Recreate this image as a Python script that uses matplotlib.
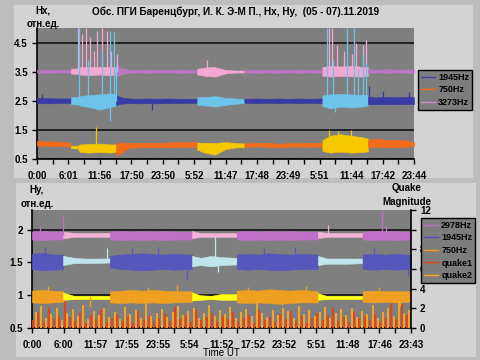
import numpy as np
import matplotlib
matplotlib.use('Agg')
import matplotlib.pyplot as plt
from matplotlib.patches import Rectangle
from matplotlib.lines import Line2D

plt.rcParams['font.family'] = ['Liberation Sans', 'DejaVu Sans']
plt.rcParams['font.weight'] = 'bold'

# ---------------- data: top panel (Hx) ----------------
TOP_XLABELS = ['0:00', '6:01', '11:56', '17:50', '23:50', '5:52', '11:47',
               '17:48', '23:49', '5:51', '11:44', '17:42', '23:44']
# time in hours, repeated time = start of a new (alternate colour) segment
T_TOP = [0, 2, 4, 6.5,
         6.5, 7.8, 8.2, 10, 12, 14, 15.1,
         15.1, 16, 17.5, 19, 21, 23, 25, 27, 30.6,
         30.6, 32, 34, 36, 38, 39.6,
         39.6, 42, 44, 46, 48, 50, 52, 54.5,
         54.5, 56, 58, 60, 62, 63.2,
         63.2, 65, 67, 69, 71, 72]

hx3273_lo = [3.47, 3.46, 3.47, 3.47,
             3.43, 3.42, 3.40, 3.38, 3.40, 3.37, 3.40,
             3.32, 3.40, 3.46, 3.47, 3.46, 3.47, 3.47, 3.46, 3.47,
             3.40, 3.36, 3.33, 3.44, 3.47, 3.47,
             3.47, 3.46, 3.47, 3.46, 3.47, 3.46, 3.47, 3.46,
             3.36, 3.33, 3.35, 3.34, 3.33, 3.36,
             3.46, 3.47, 3.46, 3.47, 3.46, 3.47]
hx3273_hi = [3.56, 3.57, 3.56, 3.56,
             3.60, 3.61, 3.66, 3.65, 3.67, 3.66, 3.65,
             3.78, 3.62, 3.57, 3.56, 3.57, 3.56, 3.56, 3.57, 3.56,
             3.60, 3.64, 3.66, 3.56, 3.54, 3.54,
             3.56, 3.57, 3.56, 3.57, 3.56, 3.57, 3.56, 3.57,
             3.66, 3.70, 3.68, 3.70, 3.67, 3.66,
             3.58, 3.57, 3.58, 3.57, 3.58, 3.56]

hx1945_lo = [2.42, 2.41, 2.42, 2.43,
             2.38, 2.37, 2.34, 2.28, 2.20, 2.28, 2.34,
             2.35, 2.40, 2.42, 2.41, 2.42, 2.41, 2.42, 2.42, 2.43,
             2.36, 2.34, 2.30, 2.36, 2.40, 2.42,
             2.43, 2.42, 2.43, 2.42, 2.43, 2.42, 2.43, 2.42,
             2.32, 2.24, 2.30, 2.27, 2.30, 2.34,
             2.38, 2.38, 2.39, 2.38, 2.39, 2.38]
hx1945_hi = [2.60, 2.59, 2.58, 2.58,
             2.62, 2.63, 2.66, 2.70, 2.72, 2.76, 2.72,
             2.70, 2.62, 2.58, 2.57, 2.58, 2.57, 2.58, 2.57, 2.57,
             2.62, 2.63, 2.66, 2.60, 2.58, 2.56,
             2.57, 2.58, 2.57, 2.58, 2.57, 2.58, 2.57, 2.58,
             2.68, 2.72, 2.74, 2.72, 2.70, 2.70,
             2.64, 2.62, 2.63, 2.62, 2.64, 2.62]

hx750_lo = [0.96, 0.95, 0.95, 0.93,
            0.87, 0.86, 0.74, 0.72, 0.74, 0.72, 0.75,
            0.62, 0.68, 0.88, 0.90, 0.90, 0.91, 0.90, 0.91, 0.92,
            0.82, 0.72, 0.65, 0.84, 0.90, 0.90,
            0.92, 0.93, 0.92, 0.90, 0.92, 0.93, 0.92, 0.93,
            0.78, 0.72, 0.75, 0.72, 0.74, 0.76,
            0.90, 0.92, 0.90, 0.91, 0.92, 0.95]
hx750_hi = [1.12, 1.11, 1.10, 1.05,
            0.95, 0.96, 1.00, 1.02, 1.03, 1.00, 1.00,
            1.05, 1.05, 1.06, 1.05, 1.06, 1.05, 1.07, 1.08, 1.10,
            1.06, 1.06, 1.05, 1.08, 1.05, 1.03,
            1.04, 1.05, 1.06, 1.02, 1.05, 1.04, 1.06, 1.05,
            1.15, 1.30, 1.35, 1.30, 1.25, 1.20,
            1.16, 1.20, 1.15, 1.16, 1.12, 1.08]

# spikes (time, end value)
top_pink_spk_t = [7.8, 8.6, 9.4, 10.1, 10.9, 11.5, 12.4, 13.4, 14.2, 15.3,
                  32.5, 55.7, 56.4, 57.3, 58.6, 60.2, 61.0, 62.2, 62.8]
top_pink_spk_v = [5.0, 4.8, 5.0, 4.7, 4.2, 4.9, 5.0, 4.9, 4.2, 4.1,
                  3.9, 5.0, 5.0, 4.4, 4.2, 4.1, 4.5, 4.4, 4.6]
top_blue_spk_t = [8.0, 9.8, 12.4, 13.9, 14.7, 15.0, 13.9,
                  55.4, 56.6, 59.2, 60.6, 61.3, 62.3, 62.9, 57.0]
top_blue_spk_v = [5.0, 3.9, 4.2, 4.9, 4.85, 3.7, 1.8,
                  5.0, 3.9, 5.0, 5.0, 3.6, 4.1, 3.8, 2.1]
top_dblue_spk_t = [1.0, 22.0, 63.5, 66.0, 71.0]
top_dblue_spk_v = [2.72, 2.2, 3.0, 2.85, 2.8]
top_yel_spk_t = [11.2, 55.8, 57.5, 60.0]
top_yel_spk_v = [1.6, 1.5, 1.45, 1.5]

# ---------------- data: bottom panel (Hy) ----------------
BOT_XLABELS = ['0:00', '6:00', '11:57', '17:55', '23:55', '5:54', '11:52',
               '17:52', '23:52', '5:51', '11:48', '17:46', '23:43']
T_BOT = [0, 2, 4, 5.9,
         5.9, 8, 10, 12, 14.8,
         14.8, 17, 19, 21, 23, 25, 27, 30.4,
         30.4, 32, 34, 36, 38.9,
         38.9, 41, 43, 45, 47, 49, 51, 54.3,
         54.3, 56, 58, 60, 62.8,
         62.8, 65, 67, 69, 71, 72]

hy2978_lo = [1.85, 1.84, 1.85, 1.85,
             1.87, 1.89, 1.89, 1.89, 1.89,
             1.85, 1.84, 1.85, 1.84, 1.85, 1.84, 1.85, 1.85,
             1.87, 1.89, 1.89, 1.89, 1.89,
             1.85, 1.84, 1.85, 1.84, 1.85, 1.84, 1.85, 1.85,
             1.87, 1.89, 1.89, 1.89, 1.89,
             1.85, 1.84, 1.85, 1.84, 1.85, 1.85]
hy2978_hi = [1.97, 1.98, 1.97, 1.97,
             1.97, 1.95, 1.95, 1.95, 1.95,
             1.97, 1.98, 1.97, 1.98, 1.97, 1.98, 1.97, 1.97,
             1.98, 1.95, 1.95, 1.95, 1.95,
             1.97, 1.98, 1.97, 1.98, 1.97, 1.98, 1.97, 1.97,
             1.97, 1.95, 1.95, 1.95, 1.95,
             1.97, 1.98, 1.97, 1.98, 1.97, 1.97]

hy1945_lo = [1.40, 1.38, 1.39, 1.40,
             1.46, 1.49, 1.49, 1.49, 1.50,
             1.42, 1.40, 1.39, 1.38, 1.39, 1.40, 1.39, 1.40,
             1.44, 1.46, 1.44, 1.46, 1.47,
             1.40, 1.39, 1.40, 1.39, 1.38, 1.39, 1.40, 1.40,
             1.46, 1.48, 1.48, 1.48, 1.49,
             1.40, 1.39, 1.40, 1.39, 1.40, 1.40]
hy1945_hi = [1.63, 1.65, 1.62, 1.62,
             1.60, 1.57, 1.56, 1.56, 1.56,
             1.60, 1.62, 1.63, 1.64, 1.63, 1.62, 1.63, 1.62,
             1.60, 1.57, 1.60, 1.58, 1.57,
             1.62, 1.63, 1.62, 1.64, 1.63, 1.62, 1.63, 1.62,
             1.60, 1.56, 1.56, 1.56, 1.56,
             1.62, 1.63, 1.62, 1.63, 1.62, 1.62]

hy750_lo = [0.89, 0.88, 0.89, 0.90,
            0.93, 0.94, 0.94, 0.94, 0.94,
            0.89, 0.88, 0.89, 0.88, 0.89, 0.88, 0.89, 0.90,
            0.92, 0.93, 0.94, 0.93, 0.93,
            0.89, 0.88, 0.89, 0.88, 0.87, 0.88, 0.89, 0.89,
            0.93, 0.94, 0.94, 0.94, 0.94,
            0.90, 0.89, 0.90, 0.89, 0.90, 0.90]
hy750_hi = [1.07, 1.08, 1.07, 1.06,
            1.04, 0.99, 0.99, 0.99, 0.99,
            1.06, 1.07, 1.08, 1.07, 1.08, 1.07, 1.06, 1.06,
            1.04, 1.00, 0.99, 1.02, 1.02,
            1.07, 1.08, 1.07, 1.09, 1.08, 1.07, 1.08, 1.06,
            1.03, 0.99, 0.99, 0.99, 0.99,
            1.06, 1.07, 1.06, 1.06, 1.06, 1.06]

bot_purp_spk_t = [1.5, 5.8, 66.5, 67.3]
bot_purp_spk_v = [2.05, 2.22, 2.28, 2.05]
bot_pink_spk_t = [56.2]
bot_pink_spk_v = [2.07]
bot_blue_spk_t = [2.5, 19.0, 24.0, 29.4, 44.0, 50.0, 65.0, 71.5]
bot_blue_spk_v = [1.73, 1.72, 1.74, 1.23, 1.72, 1.73, 1.72, 1.30]
bot_cyan_spk_t = [14.2, 34.7, 35.3]
bot_cyan_spk_v = [1.72, 1.90, 1.35]
bot_orange_spk_t = [3.0, 11.0, 22.0, 27.5, 41.0, 47.5, 52.0, 66.0, 70.0]
bot_orange_spk_v = [1.14, 0.82, 1.13, 1.15, 1.12, 0.83, 1.14, 1.13, 0.84]

# quake magnitudes (right axis), one value per hour
quake1 = [0.8, 1.5, 0.6, 2.0, 0.9, 1.2, 2.7, 1.1, 0.7, 1.6, 0.5, 1.3,
          0.9, 1.8, 0.6, 1.0, 1.4, 0.7, 1.1, 0.5, 1.7, 0.8, 1.2, 0.6,
          1.0, 1.5, 0.7, 2.1, 0.9, 1.3, 0.6, 1.9, 0.8, 1.1, 1.5, 0.6,
          1.2, 0.9, 1.6, 0.7, 1.0, 1.3, 0.5, 1.8, 0.8, 1.1, 0.6, 1.4,
          0.9, 1.7, 0.7, 1.2, 0.5, 1.0, 1.5, 0.8, 1.3, 2.0, 0.7, 1.1,
          0.6, 1.6, 0.9, 1.2, 0.8, 1.4, 0.6, 1.0, 2.5, 0.9, 2.4, 1.3]
quake2 = [1.6, 2.2, 1.0, 1.4, 2.0, 0.8, 1.5, 1.9, 1.2, 2.3, 0.9, 1.7,
          1.3, 2.0, 1.1, 1.6, 0.9, 2.1, 1.4, 1.8, 1.0, 2.4, 1.2, 1.5,
          1.9, 1.1, 1.6, 2.2, 1.3, 1.7, 2.0, 1.0, 1.5, 2.3, 1.2, 1.8,
          1.4, 2.1, 1.0, 1.6, 1.9, 1.2, 2.5, 1.5, 1.1, 1.8, 1.3, 2.0,
          1.7, 1.0, 2.2, 1.4, 1.8, 1.2, 1.6, 2.1, 1.0, 1.5, 1.9, 1.3,
          2.0, 1.1, 1.7, 1.4, 2.3, 1.0, 1.6, 2.0, 1.2, 2.7, 1.5, 1.8]


def draw_band(ax, t, lo, hi, base, light):
    t = np.asarray(t, float)
    lo = np.asarray(lo, float)
    hi = np.asarray(hi, float)
    cut = np.where(np.diff(t) == 0)[0] + 1
    parts = zip(np.split(t, cut), np.split(lo, cut), np.split(hi, cut))
    for k, (tt, l, h) in enumerate(parts):
        c = base if k % 2 == 0 else light
        ax.fill_between(tt, l, h, color=c, lw=0.4, edgecolor=c, zorder=3)


def spikes(ax, t, v, level, color):
    ax.vlines(t, level, v, color=color, lw=0.9, zorder=3)


def style_axis(ax, labels, ylim, yticks):
    ax.set_facecolor('#7f7f7f')
    ax.set_xlim(0, 72)
    ax.set_ylim(*ylim)
    ax.set_xticks(np.arange(0, 73, 6))
    ax.set_xticklabels(labels)
    ax.set_xticks(np.arange(3, 72, 6), minor=True)
    ax.set_yticks(yticks)
    ax.set_yticklabels([('%g' % y) for y in yticks])
    ax.tick_params(axis='both', which='both', direction='out', length=3.5,
                   width=1, labelsize=7, colors='black', pad=3)
    ax.tick_params(axis='x', which='major', pad=5)
    for s in ['top', 'right']:
        ax.spines[s].set_visible(False)
    for s in ['left', 'bottom']:
        ax.spines[s].set_color('black')
        ax.spines[s].set_linewidth(1.2)
    for y in yticks:
        ax.axhline(y, color='#1a1a1a', lw=1.3, zorder=1)


def box_legend(ax, handles, labels, x_right, y_top):
    leg = ax.legend(handles, labels, loc='upper right',
                    bbox_to_anchor=(x_right / 480, 1 - y_top / 360),
                    bbox_transform=fig.transFigure, fontsize=6.5,
                    frameon=True, fancybox=False, edgecolor='black',
                    facecolor='#7d7d7d', framealpha=1, handlelength=1.5,
                    handletextpad=0.4, borderpad=0.3, labelspacing=0.4,
                    borderaxespad=0)
    leg.get_frame().set_linewidth(1)
    return leg


fig = plt.figure(figsize=(4.8, 3.6), dpi=100)
fig.patch.set_facecolor('#bdbdbd')
fig.patches.append(Rectangle((14 / 480, 1 - 178 / 360), 459 / 480, 173 / 360,
                             transform=fig.transFigure, facecolor='#d3d3d3',
                             edgecolor='none', zorder=-10))
fig.patches.append(Rectangle((16 / 480, 1 - 357 / 360), 460 / 480, 174 / 360,
                             transform=fig.transFigure, facecolor='#d3d3d3',
                             edgecolor='none', zorder=-10))

# ---------------- top panel ----------------
ax1 = fig.add_axes([37 / 480, 1 - 159 / 360, 377 / 480, 131 / 360])
style_axis(ax1, TOP_XLABELS, (0.5, 5.0), [0.5, 1.5, 2.5, 3.5, 4.5])
draw_band(ax1, T_TOP, hx3273_lo, hx3273_hi, '#b878c0', '#f2a8d0')
spikes(ax1, top_pink_spk_t, top_pink_spk_v, 3.5, '#f2a8d0')
draw_band(ax1, T_TOP, hx1945_lo, hx1945_hi, '#3a3aa4', '#6ec3ea')
spikes(ax1, top_blue_spk_t, top_blue_spk_v, 2.5, '#6ec3ea')
spikes(ax1, top_dblue_spk_t, top_dblue_spk_v, 2.5, '#3a3aa4')
draw_band(ax1, T_TOP, hx750_lo, hx750_hi, '#f26b1d', '#f5c800')
spikes(ax1, top_yel_spk_t, top_yel_spk_v, 1.0, '#f5c800')

fig.text(236 / 480, 1 - 12 / 360,
         'Обс. ПГИ Баренцбург, И. К. Э-М П., Нх, Ну,  (05 - 07).11.2019',
         ha='center', va='center', fontsize=7.2)
fig.text(43 / 480, 1 - 17 / 360, 'Нх,\nотн.ед.', ha='center', va='center',
         fontsize=7, linespacing=1.4)

h1 = [Line2D([], [], color='#4040a8', lw=1),
      Line2D([], [], color='#f07020', lw=1),
      Line2D([], [], color='#c890cc', lw=1)]
box_legend(ax1, h1, ['1945Hz', '750Hz', '3273Hz'], 472, 70)

# ---------------- bottom panel ----------------
ax2 = fig.add_axes([32 / 480, 1 - 328 / 360, 379 / 480, 118 / 360])
style_axis(ax2, BOT_XLABELS, (0.5, 2.3), [0.5, 1, 1.5, 2])
draw_band(ax2, T_BOT, hy2978_lo, hy2978_hi, '#c070c8', '#f3b3d6')
spikes(ax2, bot_purp_spk_t, bot_purp_spk_v, 1.92, '#c070c8')
spikes(ax2, bot_pink_spk_t, bot_pink_spk_v, 1.92, '#f3b3d6')
draw_band(ax2, T_BOT, hy1945_lo, hy1945_hi, '#5656bc', '#bfe6ea')
spikes(ax2, bot_blue_spk_t, bot_blue_spk_v, 1.52, '#5656bc')
spikes(ax2, bot_cyan_spk_t, bot_cyan_spk_v, 1.52, '#bfe6ea')
draw_band(ax2, T_BOT, hy750_lo, hy750_hi, '#f0a020', '#ffff10')
spikes(ax2, bot_orange_spk_t, bot_orange_spk_v, 0.98, '#f0a020')
ax2.set_xlabel('Time UT', fontsize=7, labelpad=-1)

ax3 = ax2.twinx()
ax3.set_ylim(0, 12)
ax3.set_yticks(np.arange(0, 13, 2))
ax3.tick_params(axis='y', direction='out', length=3.5, width=1,
                labelsize=7, colors='black', pad=3)
for s in ['top', 'left', 'bottom']:
    ax3.spines[s].set_visible(False)
ax3.spines['right'].set_color('black')
ax3.spines['right'].set_linewidth(1.2)
hours = np.arange(len(quake1))
ax3.vlines(hours + 0.7, 0, quake2, color='#f5a623', lw=1.4)
ax3.vlines(hours + 0.2, 0, quake1, color='#e8401a', lw=1.3)

fig.text(37 / 480, 1 - 197 / 360, 'Ну,\nотн.ед.', ha='center', va='center',
         fontsize=7, linespacing=1.4)
fig.text(407 / 480, 1 - 195 / 360, 'Quake\nMagnitude', ha='center',
         va='center', fontsize=7, linespacing=1.4)

h2 = [Line2D([], [], color='#c070c8', lw=1),
      Line2D([], [], color='#5050b8', lw=1),
      Line2D([], [], color='#f0a020', lw=1),
      Line2D([], [], color='#e8401a', lw=1),
      Line2D([], [], color='#f5a623', lw=1)]
box_legend(ax3, h2, ['2978Hz', '1945Hz', '750Hz', 'quake1', 'quake2'],
           475, 218)

fig.savefig('out.png', dpi=100, facecolor=fig.get_facecolor())
